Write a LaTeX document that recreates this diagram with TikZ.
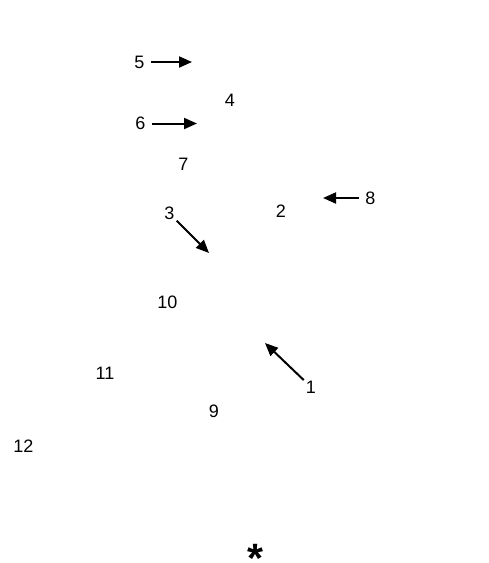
\documentclass[tikz,border=0pt]{standalone}
\usepackage{fontspec}
\setmainfont{Liberation Sans}
\usetikzlibrary{arrows.meta}

\begin{document}
\begin{tikzpicture}[
  x=1pt, y=-1pt,
  num/.style={inner sep=2pt, font=\fontsize{18}{18}\selectfont},
  pointer/.style={-{Triangle[length=13pt, width=11pt]}, line width=2pt},
  side/.style={shorten <=4.5pt}
]
  \useasboundingbox (0,0) rectangle (489,563);

  % Numbered labels, placed at pixel positions of the sheet
  \node[num] (n1)  at (311, 387)   {1};
  \node[num] (n2)  at (281, 211.5) {2};
  \node[num] (n3)  at (169.5, 213.5) {3};
  \node[num] (n4)  at (230, 100.5) {4};
  \node[num] (n5)  at (139.5, 62)  {5};
  \node[num] (n6)  at (140.5, 123.5) {6};
  \node[num] (n7)  at (183.5, 164) {7};
  \node[num] (n8)  at (370.5, 198) {8};
  \node[num] (n9)  at (214, 411)   {9};
  \node[num] (n10) at (167.5, 302.5) {10};
  \node[num] (n11) at (105, 373)   {11};
  \node[num] (n12) at (23.3, 446)  {12};

  % Asterisk at the bottom (its glyph sits high above the baseline)
  \node[anchor=base, inner sep=0pt, font=\bfseries\fontsize{41}{41}\selectfont]
    (star) at (255.3, 572.5) {*};

  % Arrow tips
  \coordinate (t1) at (265, 343);
  \coordinate (t3) at (209, 253);
  \coordinate (t5) at (192, 62);
  \coordinate (t6) at (197, 123.5);
  \coordinate (t8) at (323, 198);

  % Pointers
  \draw[pointer, side] (n5) -- (t5);
  \draw[pointer, side] (n6) -- (t6);
  \draw[pointer, side] (n8) -- (t8);
  \draw[pointer] (n3) -- (t3);
  \draw[pointer] (n1) -- (t1);
\end{tikzpicture}
\end{document}
